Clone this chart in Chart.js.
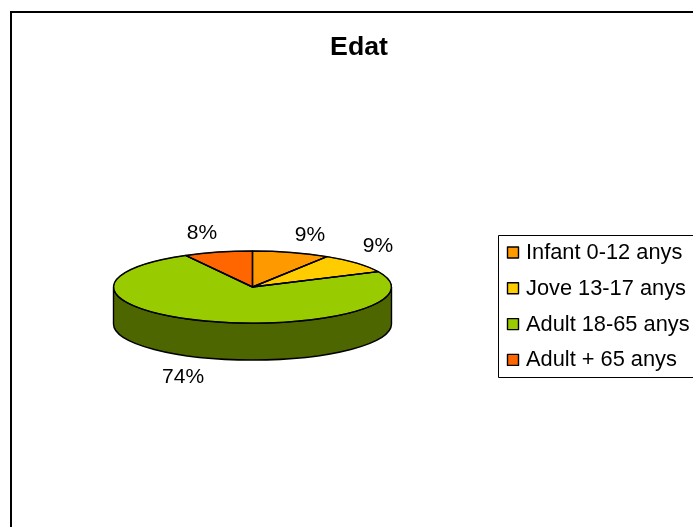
<!DOCTYPE html>
<html><head><meta charset="utf-8">
<style>html,body{margin:0;padding:0;background:#fff}canvas{display:block}</style>
<script src="https://cdn.jsdelivr.net/npm/chart.js@4"></script>
</head><body><canvas id="c" width="693" height="527"></canvas>
<script>
const chartTitle = 'Edat';
const categories = ['Infant 0-12 anys','Jove 13-17 anys','Adult 18-65 anys','Adult + 65 anys'];
const shares = [9, 9, 74, 8];
const sliceColors = ['#FF9900','#FFCC00','#99CC00','#FF6600'];
const sideColors = ['#804D00','#806600','#4D6600','#803300'];

const FONT = '"Liberation Sans", Arial, sans-serif';
const PIE = {cx:252.5, cy:287, rx:139, ry:36, depth:37};
// nudges of the percent labels from the projected slice midpoint
const LABEL_SHIFT = [[18.7,-17.4],[21.2,-17.2],[-26.5,55.8],[-15.9,-19.1]];

const pie3d = {
  id:'pie3d',
  beforeDraw(chart){
    const c=chart.ctx; c.save();
    c.strokeStyle='#000'; c.lineWidth=2;
    c.beginPath(); c.moveTo(11,527); c.lineTo(11,12); c.lineTo(693,12); c.stroke();
    c.restore();
  },
  beforeDatasetsDraw(chart){
    const c=chart.ctx, arcs=chart.getDatasetMeta(0).data;
    // extruded rim, only where a slice faces the viewer
    arcs.forEach((arc,i)=>{
      const a0=Math.max(arc.startAngle,0), a1=Math.min(arc.endAngle,Math.PI);
      const b0=Math.max(arc.startAngle,2*Math.PI), b1=Math.min(arc.endAngle,3*Math.PI);
      [[a0,a1],[b0,b1]].forEach(([s,e])=>{
        if(e<=s) return;
        c.save(); c.beginPath();
        c.ellipse(PIE.cx,PIE.cy,PIE.rx,PIE.ry,0,s,e,false);
        c.ellipse(PIE.cx,PIE.cy+PIE.depth,PIE.rx,PIE.ry,0,e,s,true);
        c.closePath();
        c.fillStyle=sideColors[i]; c.fill();
        c.strokeStyle='#000'; c.lineWidth=1.4; c.stroke();
        c.restore();
      });
    });
    const a=arcs[0];
    c.save();
    c.translate(PIE.cx,PIE.cy);
    c.scale(PIE.rx/a.outerRadius,PIE.ry/a.outerRadius);
    c.translate(-a.x,-a.y);
  },
  afterDatasetsDraw(chart){
    const c=chart.ctx, arcs=chart.getDatasetMeta(0).data;
    c.restore();
    // crisp, unsquashed outlines of the top face
    c.save();
    c.strokeStyle='#000'; c.lineWidth=1.4; c.lineJoin='round';
    arcs.forEach(arc=>{
      c.beginPath();
      c.moveTo(PIE.cx,PIE.cy);
      c.ellipse(PIE.cx,PIE.cy,PIE.rx,PIE.ry,0,arc.startAngle,arc.endAngle,false);
      c.closePath(); c.stroke();
    });
    // percent labels
    const total=shares.reduce((s,v)=>s+v,0);
    c.fillStyle='#000'; c.font='21px '+FONT; c.textAlign='center'; c.textBaseline='middle';
    arcs.forEach((arc,i)=>{
      const m=(arc.startAngle+arc.endAngle)/2;
      const x=PIE.cx+Math.cos(m)*PIE.rx+LABEL_SHIFT[i][0];
      const y=PIE.cy+Math.sin(m)*PIE.ry+LABEL_SHIFT[i][1];
      c.fillText(Math.round(shares[i]/total*100)+'%',x,y);
    });
    // legend
    c.strokeStyle='#000'; c.lineWidth=1;
    c.beginPath(); c.moveTo(693,235.5); c.lineTo(498.5,235.5); c.lineTo(498.5,377.5); c.lineTo(693,377.5); c.stroke();
    c.textAlign='left'; c.font='21.8px '+FONT;
    categories.forEach((t,i)=>{
      const y=252.5+i*35.8;
      c.fillStyle=sliceColors[i]; c.fillRect(507.5,y-5.5,11,11);
      c.lineWidth=1.4; c.strokeRect(507.5,y-5.5,11,11);
      c.fillStyle='#000'; c.fillText(t,526,y+0.5);
    });
    c.restore();
  }
};

new Chart(document.getElementById('c'),{
  type:'pie',
  data:{labels:categories,datasets:[{data:shares,backgroundColor:sliceColors,borderColor:'#000',borderWidth:1,clip:false,radius:139}]},
  options:{
    responsive:false,animation:false,
    layout:{padding:{left:25}},
    plugins:{
      legend:{display:false},tooltip:{enabled:false},
      title:{display:true,text:chartTitle,color:'#000',font:{family:FONT,size:26.7,weight:'bold'},padding:{top:32,bottom:10}}
    }
  },
  plugins:[pie3d]
});
</script></body></html>
